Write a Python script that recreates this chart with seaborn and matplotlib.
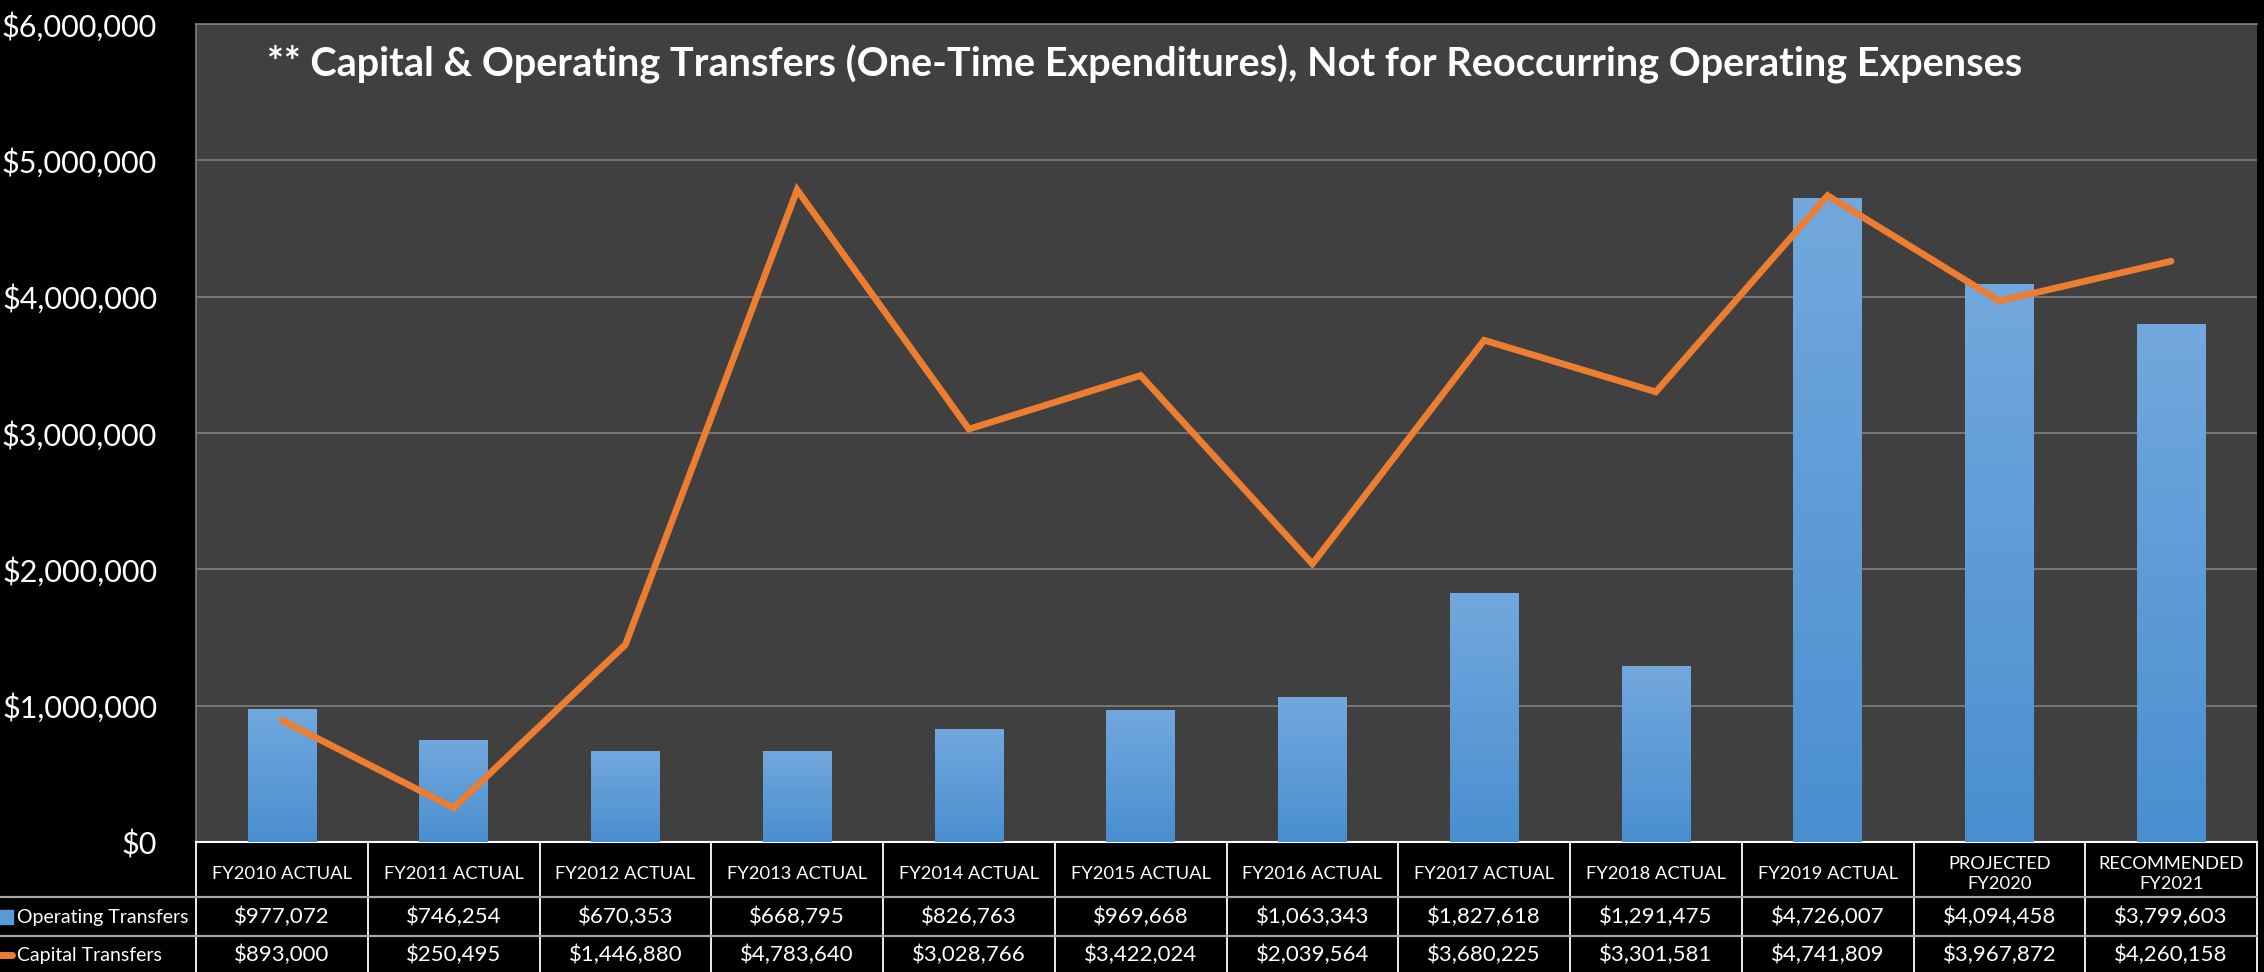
import numpy as np
import pandas as pd
import matplotlib
matplotlib.use("Agg")
import matplotlib.pyplot as plt
import seaborn as sns
from matplotlib.colors import LinearSegmentedColormap
from matplotlib.ticker import FuncFormatter
from matplotlib.transforms import blended_transform_factory

# ---------------------------------------------------------------
# Data
# ---------------------------------------------------------------
categories = ["FY2010 ACTUAL", "FY2011 ACTUAL", "FY2012 ACTUAL", "FY2013 ACTUAL",
              "FY2014 ACTUAL", "FY2015 ACTUAL", "FY2016 ACTUAL", "FY2017 ACTUAL",
              "FY2018 ACTUAL", "FY2019 ACTUAL", "PROJECTED\nFY2020", "RECOMMENDED\nFY2021"]
operating = [977072, 746254, 670353, 668795, 826763, 969668,
             1063343, 1827618, 1291475, 4726007, 4094458, 3799603]
capital = [893000, 250495, 1446880, 4783640, 3028766, 3422024,
           2039564, 3680225, 3301581, 4741809, 3967872, 4260158]
series_names = ["Operating Transfers", "Capital Transfers"]
title = "** Capital & Operating Transfers (One-Time Expenditures), Not for Reoccurring Operating Expenses"

df = pd.DataFrame({"year": categories, "operating": operating, "capital": capital})

BLUE = "#5b9bd5"
ORANGE = "#ed7d31"

sns.set_theme(style="dark")
plt.rcParams['font.family'] = ['Lato', 'DejaVu Sans']

W, H = 2264, 972
left, right, top, base = 196, 2257, 24, 842

fig = plt.figure(figsize=(W / 100, H / 100), dpi=100, facecolor="black")
ax = fig.add_axes([left / W, (H - base) / H, (right - left) / W, (base - top) / H])
ax.set_facecolor("#404040")

# bars + line
sns.barplot(data=df, x="year", y="operating", color=BLUE, saturation=1,
            width=0.4, ax=ax, zorder=2, edgecolor="none", linewidth=0)
sns.lineplot(x=np.arange(len(df)), y=df["capital"], color=ORANGE, linewidth=4.8,
             ax=ax, zorder=4, solid_capstyle="round", solid_joinstyle="miter")

# vertical gradient fill on each bar
grad_cmap = LinearSegmentedColormap.from_list("bar", ["#4a8fd0", "#72a8dd"])
grad = np.linspace(0, 1, 256).reshape(-1, 1)
for p in list(ax.patches):
    x0, y0 = p.get_x(), p.get_y()
    im = ax.imshow(grad, extent=[x0, x0 + p.get_width(), y0, y0 + p.get_height()],
                   origin="lower", aspect="auto", cmap=grad_cmap, zorder=3)
    im.set_clip_path(p)

ax.set_xlim(-0.5, len(df) - 0.5)
ax.set_ylim(0, 6000000)
ax.set_yticks(np.arange(0, 6000001, 1000000))
ax.yaxis.set_major_formatter(FuncFormatter(lambda v, _: f"${v:,.0f}"))
ax.tick_params(axis="y", colors="white", labelsize=22, length=0, pad=28)
ax.set_xticks([])
ax.set_xlabel("")
ax.set_ylabel("")
ax.grid(axis="y", color="#7f7f7f", linewidth=1.2)
ax.grid(axis="x", visible=False)
ax.set_axisbelow(True)
for side in ["top", "left"]:
    ax.spines[side].set_color("#808080")
    ax.spines[side].set_linewidth(1.2)
ax.spines["right"].set_visible(False)
ax.spines["bottom"].set_color("white")
ax.spines["bottom"].set_linewidth(1.5)

ax.text((267 - left) / (right - left), 0.951, title, transform=ax.transAxes,
        color="white", fontsize=28.5, fontweight="bold", va="center", ha="left")

# ---------------------------------------------------------------
# Data table under the chart
# ---------------------------------------------------------------
tab = fig.add_axes([0, 0, 1, (H - base) / H])
tab.set_xlim(0, W)
tab.set_ylim(0, H - base)
tab.axis("off")
tab.patch.set_alpha(0)
tr = blended_transform_factory(ax.transData, tab.transData)

row_y = [98, 55, 17]
line1, line2 = 75, 36

for i in range(len(df) + 1):
    tab.plot([i - 0.5, i - 0.5], [0, H - base], color="white", lw=1.3,
             transform=tr, clip_on=False)
tab.plot([0, right], [line1, line1], color="#a6a6a6", lw=1.6, clip_on=False)
tab.plot([0, right], [line2, line2], color="#a6a6a6", lw=1.6, clip_on=False)

for i, row in df.iterrows():
    tab.text(i, row_y[0], row["year"], transform=tr, color="white",
             fontsize=13.2, ha="center", va="center", linespacing=1.35)
    tab.text(i, row_y[1], f"${row['operating']:,}", transform=tr, color="white",
             fontsize=16, ha="center", va="center")
    tab.text(i, row_y[2], f"${row['capital']:,}", transform=tr, color="white",
             fontsize=16, ha="center", va="center")

# legend keys in the left column
tab.scatter([6], [row_y[1]], marker="s", s=110, color=BLUE, clip_on=False)
tab.plot([0, 12], [row_y[2], row_y[2]], color=ORANGE, lw=5, solid_capstyle="round",
         clip_on=False)
tab.text(17, row_y[1], series_names[0], color="white", fontsize=14, va="center")
tab.text(17, row_y[2], series_names[1], color="white", fontsize=14, va="center")

fig.savefig("out.png", dpi=100, facecolor="black")
